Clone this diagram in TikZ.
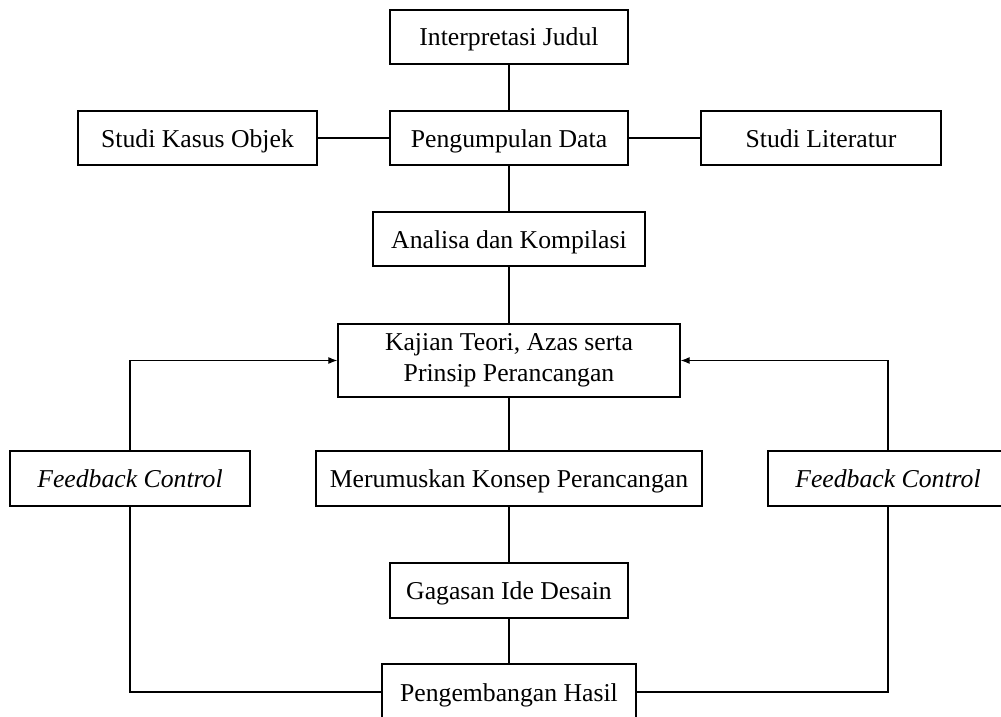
\documentclass[tikz,border=0pt]{standalone}
\usepackage{fontspec}
\setmainfont{Liberation Serif}
\usepackage{tikz}
\usetikzlibrary{arrows.meta}

\begin{document}
\begin{tikzpicture}[x=1pt,y=-1pt,
  kotak/.style={draw,line width=1.3pt,minimum height=54pt,inner sep=0pt,
    text height=18pt,text depth=0pt,
    font=\fontsize{25.7}{31}\selectfont,align=center},
  garis/.style={line width=1.1pt},
  panah/.style={garis,-{Latex[length=9pt,width=7pt]}}]
 \clip (0,0) rectangle (1001,717);
  \fill[white] (0,0) rectangle (1001,717);

  \node[kotak,minimum width=238pt] (interp) at (509,37) {Interpretasi Judul};
  \node[kotak,minimum width=239pt] (kasus) at (197.5,138) {Studi Kasus Objek};
  \node[kotak,minimum width=238pt] (kumpul) at (509,138) {Pengumpulan Data};
  \node[kotak,minimum width=240pt] (literatur) at (821,138) {Studi Literatur};
  \node[kotak,minimum width=272pt] (analisa) at (509,239) {Analisa dan Kompilasi};
  \node[kotak,minimum width=342pt,minimum height=73pt,text height={},text depth={}] (kajian) at (509,360.5)
    {Kajian Teori, Azas serta\\Prinsip Perancangan};
  \node[kotak,minimum width=240pt,minimum height=55pt] (fbkiri) at (130,478.5) {\itshape Feedback Control};
  \node[kotak,minimum width=386pt,minimum height=55pt] (rumus) at (509,478.5) {Merumuskan Konsep Perancangan};
  \node[kotak,minimum width=240pt,minimum height=55pt] (fbkanan) at (888,478.5) {\itshape Feedback Control};
  \node[kotak,minimum width=238pt,minimum height=55pt] (gagasan) at (509,590.5) {Gagasan Ide Desain};
  \node[kotak,minimum width=254pt,minimum height=56pt] (kembang) at (509,692) {Pengembangan Hasil};

  \foreach \a/\b in {interp/kumpul,kumpul/analisa,analisa/kajian,kajian/rumus,rumus/gagasan,gagasan/kembang}{
   \draw[garis] (\a.south) -- (\b.north);
}
  \draw[garis] (kasus) -- (kumpul);
  \draw[garis] (kumpul) -- (literatur);

\draw[panah] (fbkiri.north) |- (kajian.west);
\draw[panah] (fbkanan.north) |- (kajian.east);
\draw[garis] (fbkiri.south) |- (kembang.west);
\draw[garis] (fbkanan.south) |- (kembang.east);
\end{tikzpicture}
\end{document}
